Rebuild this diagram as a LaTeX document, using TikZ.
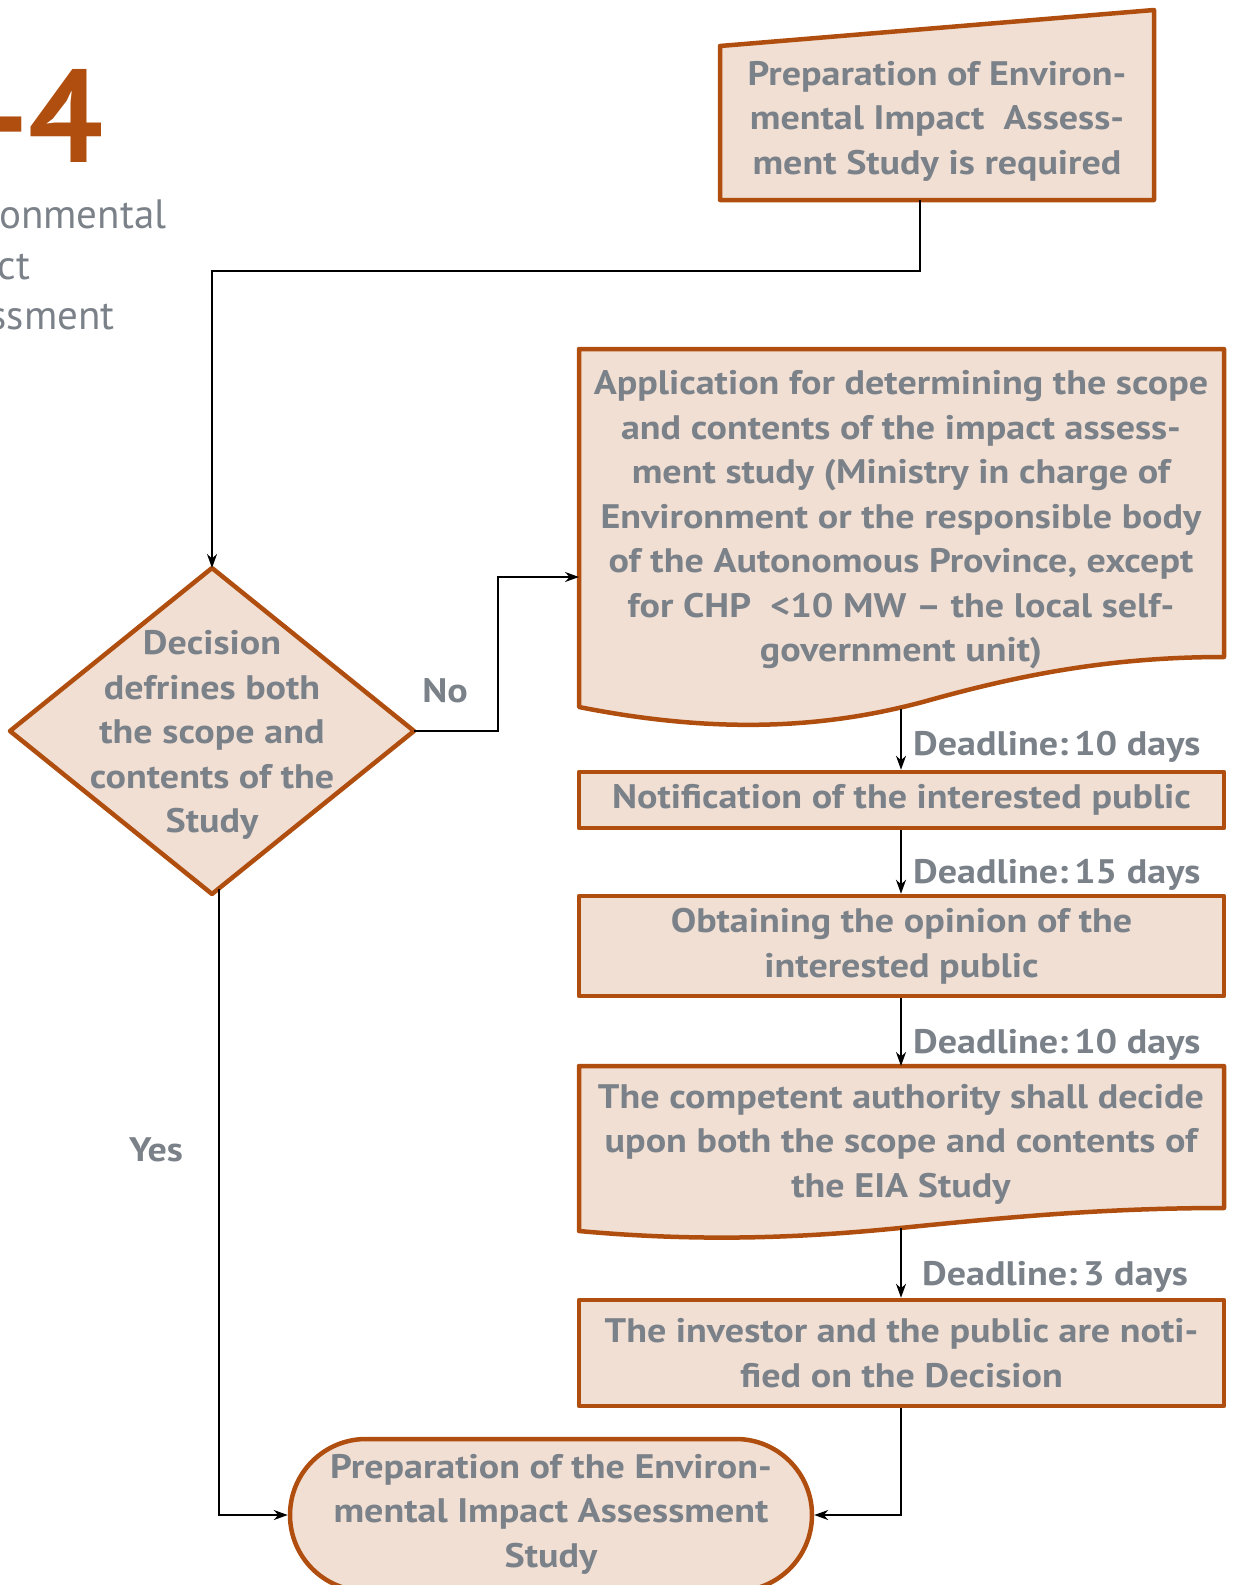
\documentclass[tikz,border=0pt]{standalone}
\usepackage{fontspec}
\setmainfont{PT Sans}
\newfontfamily\boxfont[FakeStretch=1.12,Ligatures=TeX]{PT Sans}
\usetikzlibrary{arrows.meta,shapes.misc}
\definecolor{boxfill}{HTML}{F1DFD3}
\definecolor{boxline}{HTML}{B04E0F}
\definecolor{txtgray}{HTML}{7B8189}
\begin{document}
\begin{tikzpicture}[x=1pt,y=-1pt,
  frame/.style={draw=boxline, line width=4.5pt, fill=boxfill, line join=round},
  plainbox/.style={frame, rectangle, minimum width=645pt, inner sep=0pt},
  boxtext/.style={text=txtgray, font=\boxfont\fontsize{34}{44.5}\selectfont\bfseries, align=center},
  link/.style={draw=black, line width=1.8pt, -{Stealth[length=14pt,width=10pt]}},
  lbl/.style={text=txtgray, font=\boxfont\fontsize{34}{38}\selectfont\bfseries, inner sep=0pt},
  sub/.style={text=txtgray, font=\fontsize{41}{50}\selectfont, inner sep=0pt, anchor=base west}]

\useasboundingbox (0,0) rectangle (1233,1585);

% heading, partly outside the page
\node[text=boxline, font=\fontsize{132}{132}\selectfont\bfseries, inner sep=0pt, anchor=base east] (head) at (104,162) {-4};
\node[sub] (sub1) at (-90,228) {Environmental};
\node[sub] (sub2) at (-90,279) {Impact};
\node[sub] (sub3) at (-90,329) {Assessment};

% start: manual input shape
\draw[frame] (720,46) -- (1154,10) -- (1154,200) -- (720,200) -- cycle;
\node[boxtext] (start) at (937,121) {Preparation of Environ-\\mental Impact~ Assess-\\ment Study is required};
\coordinate (startout) at (920,200);

% decision diamond
\coordinate (dtop) at (212,568);
\coordinate (dright) at (414,731);
\coordinate (dbottom) at (212,894);
\coordinate (dleft) at (10,731);
\draw[frame] (dtop) -- (dright) -- (dbottom) -- (dleft) -- cycle;
\node[boxtext] (dec) at (212,735) {Decision\\defrines both\\the scope and\\contents of the\\Study};
\coordinate (yesout) at (219,889);

% application document
\draw[frame] (579,349) -- (1224,349) -- (1224,657)
  .. controls (1110,657) and (1020,675) .. (930,700)
  .. controls (830,728) and (720,735) .. (579,707) -- cycle;
\node[boxtext] (appl) at (901,520) {Application for determining the scope\\and contents of the impact assess-\\ment study (Ministry in charge of\\Environment or the responsible body\\of the Autonomous Province, except\\for CHP~ <10 MW – the local self-\\government unit)};
\coordinate (applin) at (579,577);
\coordinate (applout) at (901,709);

% notification
\node[plainbox, minimum height=56pt] (notif) at (901.5,800) {};
\node[boxtext] at (notif) {Notification of the interested public};

% opinion
\node[plainbox, minimum height=100pt] (opin) at (901.5,946) {};
\node[boxtext] at (opin) {Obtaining the opinion of the\\interested public};

% competent authority document
\draw[frame] (579,1066) -- (1224,1066) -- (1224,1208)
  .. controls (1100,1208) and (1000,1218) .. (900,1228)
  .. controls (800,1238) and (700,1242) .. (579,1231) -- cycle;
\node[boxtext] (auth) at (901,1144) {The competent authority shall decide\\upon both the scope and contents of\\the EIA Study};
\coordinate (authin) at (901,1066);
\coordinate (authout) at (901,1228);

% investor notified
\node[plainbox, minimum height=106pt] (inv) at (901.5,1353) {};
\node[boxtext] at (inv) {The investor and the public are noti-\\fied on the Decision};

% terminal
\node[frame, rounded rectangle, rounded rectangle arc length=180, minimum width=522pt, minimum height=152pt, inner sep=0pt] (term) at (551,1515) {};
\node[boxtext] at (551,1514) {Preparation of the Environ-\\mental Impact Assessment\\Study};

% connectors
\draw[link] (startout) -- ++(0,71) -| (dtop);
\draw[link] (dright) -- (498,731) |- (applin);
\draw[link] (applout) -- (notif.north -| applout);
\draw[link] (notif.south -| applout) -- (opin.north -| applout);
\draw[link] (opin.south -| applout) -- (authin);
\draw[link] (authout) -- (inv.north -| authout);
\draw[link] (inv.south -| authout) |- (term.east);
\draw[link] (yesout) |- (term.west);

% labels
\node[lbl] (no) at (445,691) {No};
\node[lbl] (yes) at (156,1150) {Yes};
\node[lbl, anchor=west] (d1) at (913,747) {Deadline:\,10 days};
\node[lbl, anchor=west] (d2) at (913,875) {Deadline:\,15 days};
\node[lbl, anchor=west] (d3) at (913,1045) {Deadline:\,10 days};
\node[lbl, anchor=west] (d4) at (922,1277) {Deadline:\,3 days};
\end{tikzpicture}
\end{document}
